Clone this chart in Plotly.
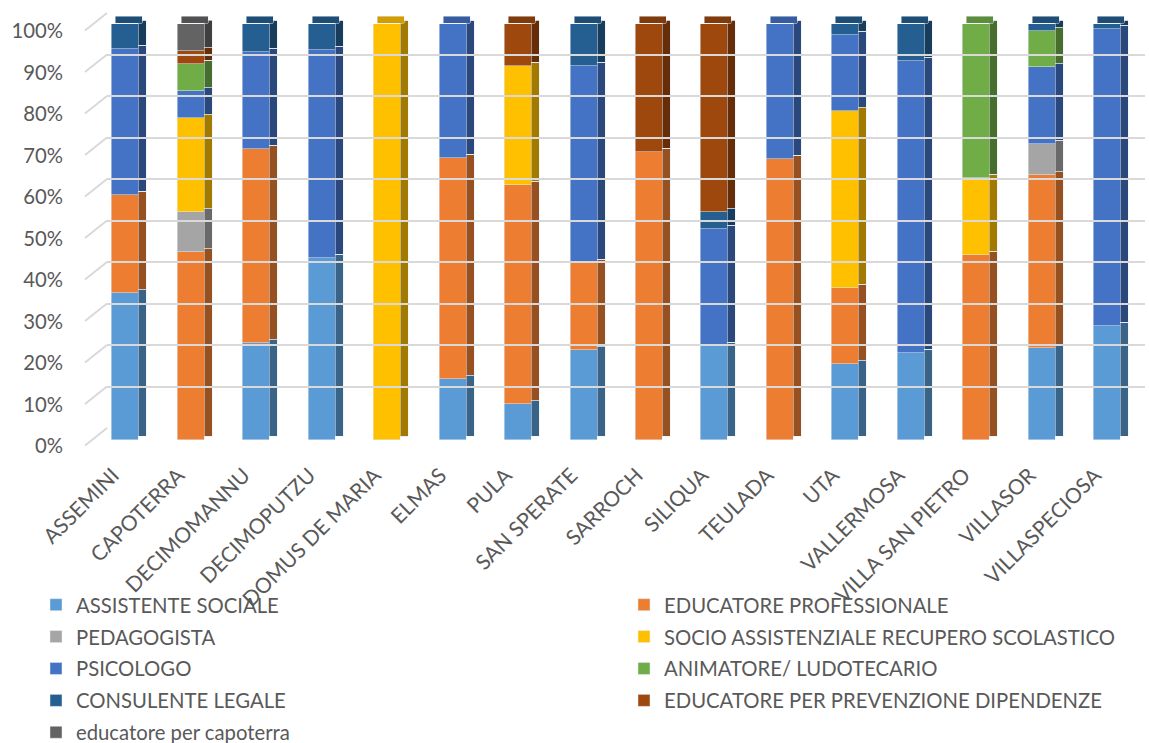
import plotly.graph_objects as go

# ---------------- data ----------------
categories = ["ASSEMINI", "CAPOTERRA", "DECIMOMANNU", "DECIMOPUTZU", "DOMUS DE MARIA",
              "ELMAS", "PULA", "SAN SPERATE", "SARROCH", "SILIQUA", "TEULADA", "UTA",
              "VALLERMOSA", "VILLA SAN PIETRO", "VILLASOR", "VILLASPECIOSA"]

assistente_sociale = [35.3, 0, 23.3, 43.75, 0, 14.7, 8.7, 21.7, 0, 22.6, 0, 18.2, 21.0, 0, 22.2, 27.4]
educatore_professionale = [23.5, 45.16, 46.7, 0, 0, 53.2, 52.6, 20.8, 69.2, 0, 67.6, 18.3, 0, 44.5, 41.5, 0]
pedagogista = [0, 9.68, 0, 0, 0, 0, 0, 0, 0, 0, 0, 0, 0, 0, 7.5, 0]
socio_assistenziale = [0, 22.58, 0, 0, 100, 0, 28.5, 0, 0, 0, 0, 42.7, 0, 18.6, 0, 0]
psicologo = [35.3, 6.45, 23.3, 50.0, 0, 32.1, 0, 47.3, 0, 28.1, 32.4, 18.2, 70.2, 0, 18.5, 71.3]
animatore = [0, 6.45, 0, 0, 0, 0, 0, 0, 0, 0, 0, 0, 0, 36.9, 8.7, 0]
consulente_legale = [5.9, 0, 6.7, 6.25, 0, 0, 0, 10.2, 0, 4.1, 0, 2.6, 8.8, 0, 1.6, 1.3]
educatore_dipendenze = [0, 3.23, 0, 0, 0, 0, 10.2, 0, 30.8, 45.2, 0, 0, 0, 0, 0, 0]
educatore_capoterra = [0, 6.45, 0, 0, 0, 0, 0, 0, 0, 0, 0, 0, 0, 0, 0, 0]

series_names = ["ASSISTENTE SOCIALE", "EDUCATORE PROFESSIONALE", "PEDAGOGISTA",
                "SOCIO ASSISTENZIALE RECUPERO SCOLASTICO", "PSICOLOGO",
                "ANIMATORE/ LUDOTECARIO", "CONSULENTE LEGALE",
                "EDUCATORE PER PREVENZIONE DIPENDENZE", "educatore per capoterra"]
series_values = [assistente_sociale, educatore_professionale, pedagogista, socio_assistenziale,
                 psicologo, animatore, consulente_legale, educatore_dipendenze, educatore_capoterra]
series_colors = ["#5B9BD5", "#ED7D31", "#A5A5A5", "#FFC000", "#4472C4",
                 "#70AD47", "#255E91", "#9E480E", "#636363"]

y_ticks = list(range(0, 101, 10))

# ---------------- geometry / style ----------------
W, H = 1149, 743
FONT = "Lato"
FS = 20.3
TXT = "#595959"
GRID = "#D9D9D9"


def fx(p):
    return p / W


def fy(p):
    return 1 - p / H


def shade(hex_color, f):
    h = hex_color.lstrip("#")
    r, g, b = (int(h[i:i + 2], 16) for i in (0, 2, 4))
    return "#%02X%02X%02X" % (int(r * f), int(g * f), int(b * f))


CAT_PX = 65.47
BAR_W = 27 / CAT_PX
SIDE_W = 8 / CAT_PX
DEPTH_PX = 7
FRONT_BOTTOM, FRONT_TOP = 440, 24
PX_PER_UNIT = (FRONT_BOTTOM - FRONT_TOP) / 100.0

fig = go.Figure()

# invisible helpers so that grid / label axes are drawn
fig.add_trace(go.Scatter(x=[0], y=[0], xaxis="x2", yaxis="y3", mode="markers",
                         marker=dict(opacity=0), showlegend=False, hoverinfo="skip"))
fig.add_trace(go.Scatter(x=[0], y=[0], xaxis="x2", yaxis="y5", mode="markers",
                         marker=dict(opacity=0), showlegend=False, hoverinfo="skip"))

# front faces (legend: left column = even index, right column = odd index)
for i, (name, vals, col) in enumerate(zip(series_names, series_values, series_colors)):
    fig.add_trace(go.Bar(x=categories, y=vals, name=name, marker=dict(color=col),
                         width=BAR_W, xaxis="x", yaxis="y", legendgroup=name,
                         legend="legend" if i % 2 == 0 else "legend2"))

# side faces
for name, vals, col in zip(series_names, series_values, series_colors):
    fig.add_trace(go.Bar(x=categories, y=vals, name=name, marker=dict(color=shade(col, 0.64)),
                         width=SIDE_W, offset=BAR_W / 2, xaxis="x", yaxis="y2",
                         showlegend=False, hoverinfo="skip"))

# top faces: colour of the topmost non-zero series in each column
top_cols = []
for i in range(len(categories)):
    c = series_colors[0]
    for vals, col in zip(series_values, series_colors):
        if vals[i] > 0:
            c = col
    top_cols.append(shade(c, 0.82))
fig.add_trace(go.Bar(x=categories, y=[DEPTH_PX / PX_PER_UNIT] * len(categories),
                     base=[100] * len(categories), marker=dict(color=top_cols),
                     width=BAR_W, offset=-BAR_W / 2 + SIDE_W / 2, xaxis="x", yaxis="y4",
                     showlegend=False, hoverinfo="skip"))

# small diagonal stubs of the 3D side wall
shapes = []
for t in y_ticks:
    yb = 428 - t * 4.15
    shapes.append(dict(type="line", xref="paper", yref="paper",
                       x0=fx(107), y0=fy(yb), x1=fx(85), y1=fy(yb + 17.5),
                       line=dict(color=GRID, width=2)))

legend_style = dict(orientation="v", xanchor="left", yanchor="top", traceorder="grouped",
                    tracegroupgap=2.5, font=dict(family=FONT, size=FS, color=TXT),
                    bgcolor="rgba(0,0,0,0)")

fig.update_layout(
    width=W, height=H,
    margin=dict(l=0, r=0, t=0, b=0, autoexpand=False),
    paper_bgcolor="white", plot_bgcolor="rgba(0,0,0,0)",
    barmode="stack", bargap=0,
    font=dict(family=FONT, size=FS, color=TXT),
    shapes=shapes,
    xaxis=dict(domain=[fx(92.3), fx(92.3 + 16 * CAT_PX)], range=[-0.5, 15.5],
               type="category", anchor="y", showgrid=False, showline=False, zeroline=False,
               ticks="", tickangle=-45, ticklabelstandoff=18, ticklabelshift=-12,
               automargin=False, tickfont=dict(family=FONT, size=21, color=TXT)),
    yaxis=dict(domain=[fy(FRONT_BOTTOM), fy(FRONT_TOP)], range=[0, 100], visible=False,
               anchor="x"),
    yaxis2=dict(domain=[fy(FRONT_BOTTOM - DEPTH_PX / 2), fy(FRONT_TOP - DEPTH_PX / 2)],
                range=[0, 100], visible=False, anchor="x"),
    xaxis2=dict(domain=[fx(107), fx(1145)], range=[0, 1], visible=False, anchor="y3"),
    yaxis3=dict(domain=[fy(428), fy(13)], range=[0, 100], anchor="x2", showgrid=True,
                gridcolor=GRID, gridwidth=2, tickvals=y_ticks, showticklabels=False,
                zeroline=False, showline=False, ticks=""),
    yaxis4=dict(domain=[fy(FRONT_BOTTOM), fy(FRONT_TOP - 2 * PX_PER_UNIT)], range=[0, 102],
                visible=False, anchor="x"),
    yaxis5=dict(domain=[fy(446), fy(31)], range=[0, 100], anchor="free", position=fx(63),
                side="left", showgrid=False, zeroline=False, showline=False, ticks="",
                automargin=False, tickvals=y_ticks, ticktext=[f"{t}%" for t in y_ticks],
                tickfont=dict(family=FONT, size=FS, color=TXT)),
    legend=dict(x=fx(36), y=fy(585), **legend_style),
    legend2=dict(x=fx(624), y=fy(585), **legend_style),
    showlegend=True,
)

fig.write_html("out.html")
